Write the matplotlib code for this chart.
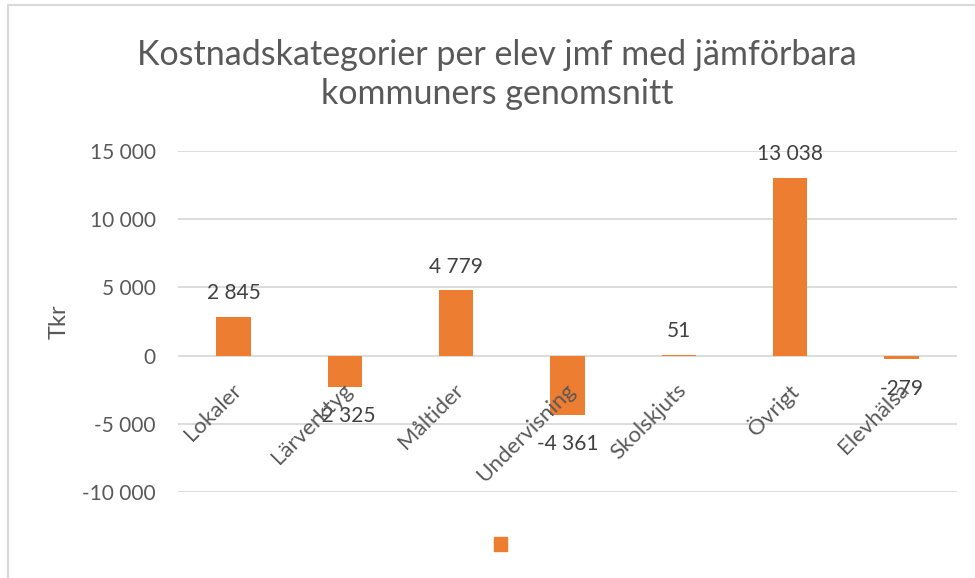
import matplotlib
matplotlib.use("Agg")
import matplotlib.pyplot as plt
from matplotlib.patches import Patch, Rectangle
import numpy as np

categories = ["Lokaler", "Lärverktyg", "Måltider", "Undervisning", "Skolskjuts", "Övrigt", "Elevhälsa"]
values = [2845, -2325, 4779, -4361, 51, 13038, -279]
labels = ["2 845", "-2 325", "4 779", "-4 361", "51", "13 038", "-279"]
yticks = [-10000, -5000, 0, 5000, 10000, 15000]
ytick_labels = ["-10 000", "-5 000", "0", "5 000", "10 000", "15 000"]
title_lines = ["Kostnadskategorier per elev jmf med jämförbara", "kommuners genomsnitt"]

plt.rcParams['font.family'] = ['Lato', 'DejaVu Sans']
W, H = 975, 578
fig = plt.figure(figsize=(W/100, H/100), dpi=100)

BAR = "#ED7D31"
TXT = "#595959"
GRID = "#D9D9D9"

# chart area border
fig.patches.append(Rectangle((8/W, -0.1), 1.1, 1 - 5/H + 0.1, transform=fig.transFigure,
                             fill=False, edgecolor=GRID, linewidth=1.5))

ax = fig.add_axes([178/W, 1 - 492/H, (957-178)/W, (492-151)/H])
x = np.arange(len(categories))
ax.bar(x, values, width=0.31, color=BAR, zorder=3)
ax.set_xlim(-0.5, len(categories) - 0.5)
ax.set_ylim(-10000, 15000)
ax.set_yticks(yticks)
ax.set_yticklabels(ytick_labels, fontsize=15, color=TXT)
ax.tick_params(axis='y', length=0, pad=16)
ax.set_xticks([])
for s in ax.spines.values():
    s.set_visible(False)
ax.grid(axis='y', color=GRID, linewidth=1.3, zorder=0)

fig.text(59/W, 1 - 322/H, "Tkr", rotation=90, ha='center', va='center',
         fontsize=17, color=TXT)

for xi, v, lab in zip(x, values, labels):
    if v >= 0:
        ax.annotate(lab, (xi, v), xytext=(0, 17), textcoords='offset points',
                    ha='center', va='center', fontsize=15, color="#404040", zorder=4)
    else:
        ax.annotate(lab, (xi, v), xytext=(0, -21), textcoords='offset points',
                    ha='center', va='center', fontsize=15, color="#404040", zorder=4)

for xi, c in zip(x, categories):
    ax.annotate(c, (xi, 0), xytext=(-2, -17.5), textcoords='offset points',
                ha='right', va='top', rotation=45, rotation_mode='anchor',
                fontsize=16, color=TXT, zorder=5)

fig.text(497/W, 1 - 65/H, title_lines[0], ha='center', va='baseline', fontsize=24.5, color=TXT)
fig.text(497/W, 1 - 104/H, title_lines[1], ha='center', va='baseline', fontsize=24.5, color=TXT)

fig.legend(handles=[Patch(color=BAR)], labels=[""], loc='center',
           bbox_to_anchor=(509/W, 1 - 545/H), frameon=False,
           handlelength=0.65, handleheight=0.65, fontsize=15)

fig.savefig("out.png", dpi=100)
